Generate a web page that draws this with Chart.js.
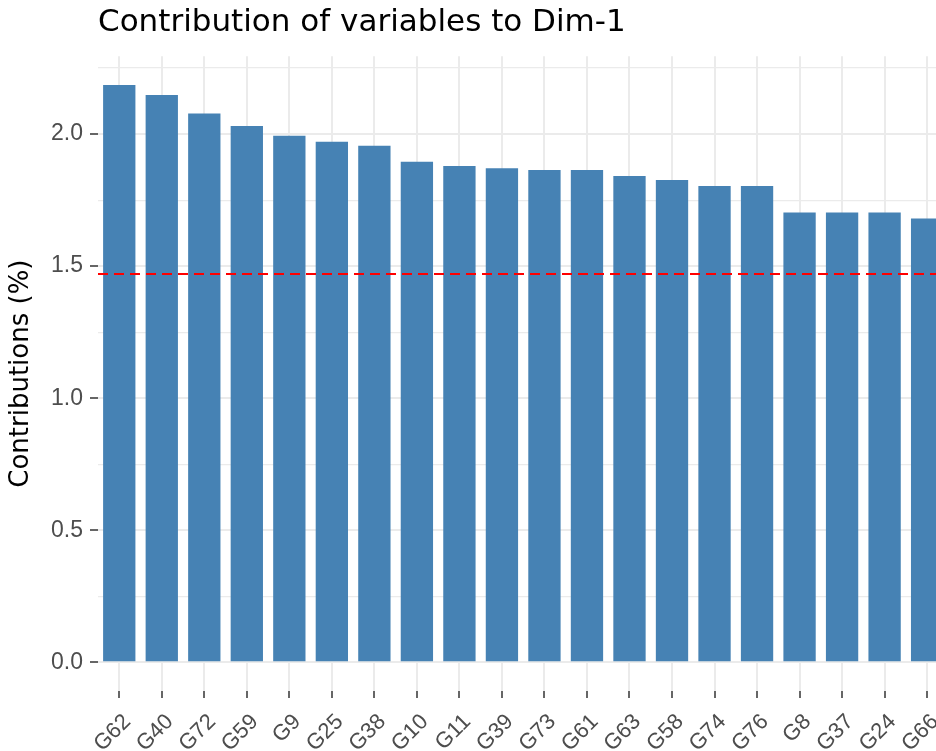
<!DOCTYPE html>
<html>
<head>
<meta charset="utf-8">
<script src="https://cdn.jsdelivr.net/npm/chart.js@4.4.1/dist/chart.umd.min.js"></script>
<style>
    html, body { margin: 0; padding: 0; background: #fff; overflow: hidden; }
    #wrap { width: 957px; height: 751px; }
</style>
</head>
<body>
<div id="wrap"><canvas id="contrib" width="957" height="751"></canvas></div>
<script>
const variables = ["G62", "G40", "G72", "G59", "G9", "G25", "G38", "G10", "G11", "G39",
                   "G73", "G61", "G63", "G58", "G74", "G76", "G8", "G37", "G24", "G66"];
const contributions = [2.186, 2.148, 2.078, 2.031, 1.994, 1.971, 1.956, 1.895, 1.879, 1.871,
                       1.864, 1.864, 1.841, 1.826, 1.803, 1.803, 1.703, 1.703, 1.703, 1.680];
const yTicks = [0, 0.25, 0.5, 0.75, 1.0, 1.25, 1.5, 1.75, 2.0, 2.25];
const expected = 1.47;   // 100 / number of variables

const tickFont = "'Liberation Sans', Arial, sans-serif";
const titleFont = "'DejaVu Sans', 'Liberation Sans', sans-serif";
const isMajor = (v) => Math.abs(v * 2 - Math.round(v * 2)) < 1e-6;

// red dashed reference line across the panel
const refLine = {
    id: "refLine",
    afterDatasetsDraw(chart) {
        const { ctx, chartArea, scales } = chart;
        const y = scales.y.getPixelForValue(expected);
        ctx.save();
        ctx.strokeStyle = "#ff0000";
        ctx.lineWidth = 2;
        ctx.setLineDash([10, 6]);
        ctx.beginPath();
        ctx.moveTo(chartArea.left, y);
        ctx.lineTo(chartArea.right, y);
        ctx.stroke();
        ctx.restore();
    }
};

new Chart(document.getElementById("contrib"), {
    type: "bar",
    data: {
        labels: variables,
        datasets: [{
            data: contributions,
            backgroundColor: "#4682b4",
            borderWidth: 0,
            barPercentage: 0.76,
            categoryPercentage: 1,
        }]
    },
    options: {
        responsive: false,
        animation: false,
        layout: { padding: 0 },
        scales: {
            x: {
                offset: true,
                afterFit: (s) => { s.height = 60; },
                grid: {
                    offset: false,
                    color: "#ebebeb",
                    lineWidth: 2,
                    tickColor: "#333",
                    tickWidth: 1.5,
                    tickLength: 7,
                },
                border: { display: false },
                ticks: {
                    minRotation: 45,
                    maxRotation: 45,
                    autoSkip: false,
                    padding: 11,
                    labelOffset: 8,
                    font: { family: tickFont, size: 22 },
                    color: "#4d4d4d",
                },
            },
            y: {
                min: -0.109,
                max: 2.295,
                afterFit: (s) => { s.width = 98; },
                afterBuildTicks: (s) => { s.ticks = yTicks.map(v => ({ value: v })); },
                grid: {
                    color: "#ebebeb",
                    lineWidth: (c) => isMajor(c.tick.value) ? 2 : 1.2,
                    tickColor: (c) => isMajor(c.tick.value) ? "#333" : "rgba(0,0,0,0)",
                    tickWidth: 1.5,
                    tickLength: 8,
                },
                border: { display: false },
                title: {
                    display: true,
                    text: "Contributions (%)",
                    color: "#000",
                    font: { family: titleFont, size: 26 },
                    padding: { top: 6, bottom: 4 },
                },
                ticks: {
                    padding: 7,
                    font: { family: tickFont, size: 23 },
                    color: "#4d4d4d",
                    callback: (v) => isMajor(v) ? v.toFixed(1) : "",
                },
            },
        },
        plugins: {
            legend: { display: false },
            tooltip: { enabled: false },
            title: {
                display: true,
                text: "Contribution of variables to Dim-1",
                align: "start",
                fullSize: false,
                color: "#000",
                font: { family: titleFont, size: 31, weight: "normal" },
                padding: { top: 4, bottom: 15 },
            },
        },
    },
    plugins: [refLine],
});
</script>
</body>
</html>
